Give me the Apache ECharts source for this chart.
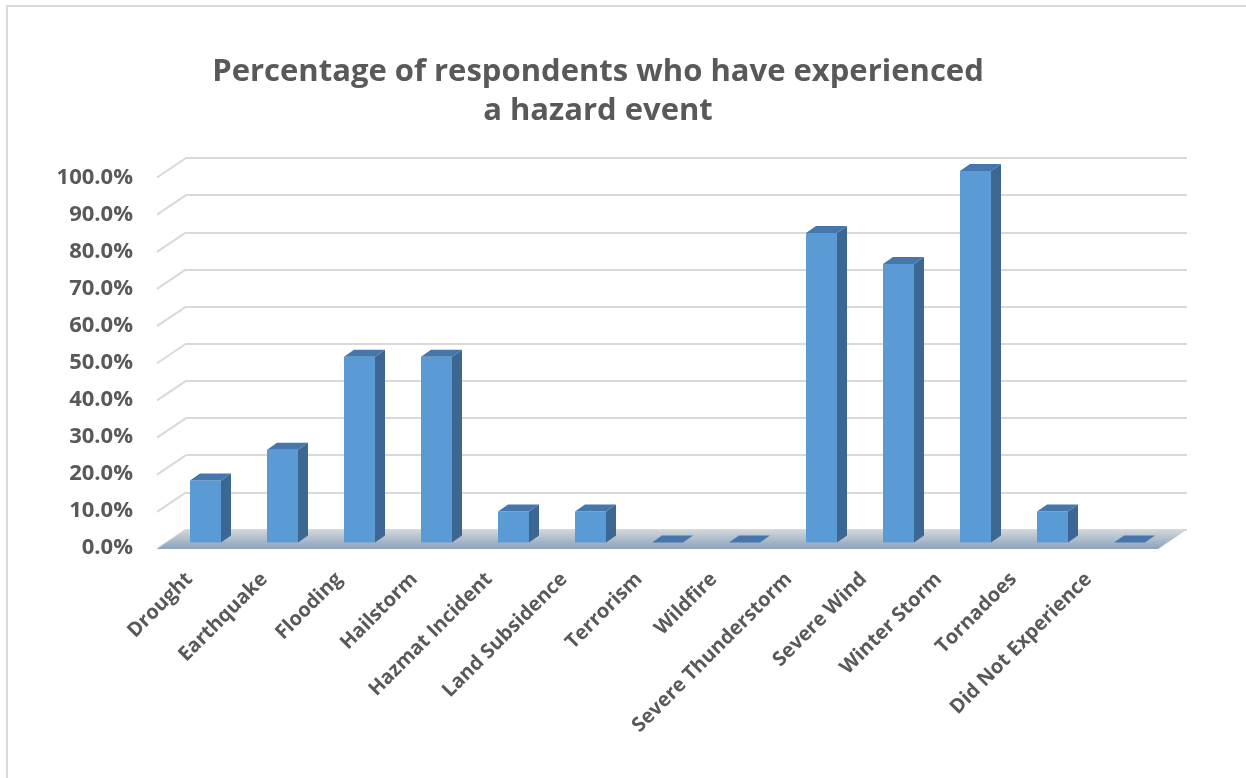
<!DOCTYPE html>
<html>
<head>
<meta charset="utf-8">
<script src="https://cdn.jsdelivr.net/npm/echarts@6/dist/echarts.min.js"></script>
<style>html,body{margin:0;padding:0;background:#fff;}#c{width:1246px;height:778px;}</style>
</head>
<body>
<div id="c"></div>
<script>
const categories = ["Drought","Earthquake","Flooding","Hailstorm","Hazmat Incident","Land Subsidence","Terrorism","Wildfire","Severe Thunderstorm","Severe Wind","Winter Storm","Tornadoes","Did Not Experience"];
const percentValues = [0.1667,0.25,0.5,0.5,0.0833,0.0833,0,0,0.8333,0.75,1.0,0.0833,0];
const yTicks = [0,0.1,0.2,0.3,0.4,0.5,0.6,0.7,0.8,0.9,1.0];
const titleText = 'Percentage of respondents who have experienced\na hazard event';

const FONT = "'Open Sans', 'DejaVu Sans', sans-serif";
const TXT = '#595959';
const DEPTH = [-29, 19.5];      // back wall -> front edge offset
const BAR_D = [10, -7];         // bar depth offset
const BAR_W = 31;

const chart = echarts.init(document.getElementById('c'), null, {renderer: 'canvas'});

function hiddenCat(gi){ return {type:'category', gridIndex:gi, data:categories, show:false, boundaryGap:true}; }
function hiddenVal(gi){ return {type:'value', gridIndex:gi, min:0, max:1, interval:0.1, show:false, splitLine:{show:false}}; }

const option = {
  backgroundColor: '#ffffff',
  animation: false,
  graphic: [{
    type: 'rect', shape: {x: 7, y: 6, width: 1400, height: 900},
    style: {fill: 'none', stroke: '#d9d9d9', lineWidth: 2}, silent: true, z: -10
  }, {
    type: 'text', x: 598, y: 53, silent: true,
    style: {text: titleText, textAlign: 'center', textVerticalAlign: 'top',
            font: "bold 31px 'Open Sans', sans-serif", lineHeight: 39, fill: TXT}
  }],
  grid: [
    {left: 186, top: 158, width: 1001, height: 371.5},   // back wall
    {left: 167, top: 171, width: 1001, height: 371.5},   // bar plane
    {left: 151, top: 178, width: 1001, height: 370},     // front edge (value labels)
    {left: 152, top: 178, width: 974, height: 370}       // category labels
  ],
  xAxis: [
    hiddenCat(0),
    hiddenCat(1),
    hiddenCat(2),
    {type:'category', gridIndex:3, data:categories, boundaryGap:true,
     axisLine:{show:false}, axisTick:{show:false},
     axisLabel:{interval:0, rotate:45, margin:28, fontFamily:FONT, fontWeight:'bold', fontSize:20, color:TXT}}
  ],
  yAxis: [
    {type:'value', gridIndex:0, min:0, max:1, interval:0.1,
     axisLabel:{show:false}, axisLine:{show:false}, axisTick:{show:false},
     splitLine:{show:true, lineStyle:{color:'#d9d9d9', width:2}}},
    hiddenVal(1),
    {type:'value', gridIndex:2, min:0, max:1, interval:0.1,
     axisLine:{show:false}, axisTick:{show:false}, splitLine:{show:false},
     axisLabel:{margin:18, fontFamily:FONT, fontWeight:'bold', fontSize:22, color:TXT,
       formatter: v => (v*100).toFixed(1) + '%'}},
    hiddenVal(3)
  ],
  series: [
    { // left side wall diagonals
      type:'custom', xAxisIndex:0, yAxisIndex:0, silent:true, z:1,
      data: yTicks.map(t => [0, t]),
      renderItem: function(params, api){
        const cs = params.coordSys;
        const y = api.coord([0, api.value(1)])[1];
        return {type:'line', shape:{x1: cs.x, y1: y, x2: cs.x + DEPTH[0], y2: y + DEPTH[1]},
                style:{stroke:'#d9d9d9', lineWidth:2}};
      }
    },
    { // floor
      type:'custom', xAxisIndex:0, yAxisIndex:0, silent:true, z:2,
      data: [[0, 0]],
      renderItem: function(params, api){
        const cs = params.coordSys;
        const y0 = api.coord([0, 0])[1];
        const pts = [[cs.x, y0], [cs.x + cs.width, y0],
                     [cs.x + cs.width + DEPTH[0], y0 + DEPTH[1]], [cs.x + DEPTH[0], y0 + DEPTH[1]]];
        return {type:'polygon', shape:{points: pts},
          style:{fill: new echarts.graphic.LinearGradient(0,0,0,1,[
            {offset:0, color:'#d3d7db'}, {offset:1, color:'#8ba2bb'}])}};
      }
    },
    { // 3D bars
      type:'custom', xAxisIndex:1, yAxisIndex:1, z:5,
      data: percentValues.map((v, i) => [i, v]),
      renderItem: function(params, api){
        const i = api.value(0), v = api.value(1);
        const top = api.coord([i, v]);
        const bot = api.coord([i, 0]);
        const xl = top[0] - BAR_W/2, xr = top[0] + BAR_W/2;
        const dx = BAR_D[0], dy = BAR_D[1];
        const children = [];
        if (bot[1] - top[1] > 0.5) {
          children.push({type:'polygon', shape:{points:[[xl, top[1]],[xr, top[1]],[xr, bot[1]],[xl, bot[1]]]},
                         style:{fill:'#5b9bd5'}});
          children.push({type:'polygon', shape:{points:[[xr, top[1]],[xr+dx, top[1]+dy],[xr+dx, bot[1]+dy],[xr, bot[1]]]},
                         style:{fill:'#3c6792'}});
        }
        children.push({type:'polygon', shape:{points:[[xl, top[1]],[xr, top[1]],[xr+dx, top[1]+dy],[xl+dx, top[1]+dy]]},
                       style:{fill:'#4577ac'}});
        return {type:'group', children: children};
      }
    }
  ]
};
chart.setOption(option);
</script>
</body>
</html>
